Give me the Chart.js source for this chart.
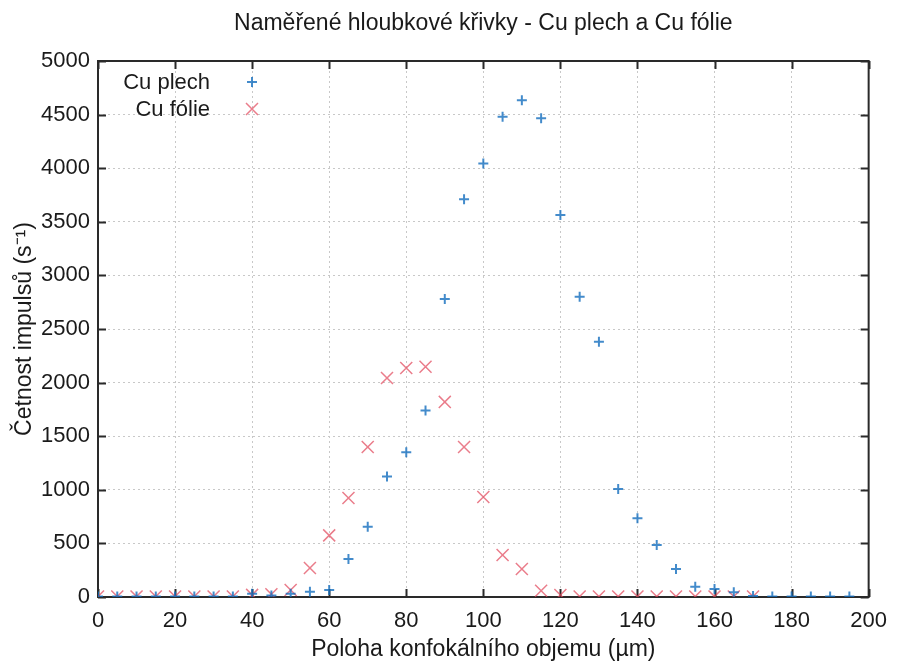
<!DOCTYPE html>
<html>
<head>
<meta charset="utf-8">
<script src="https://cdn.jsdelivr.net/npm/chart.js@4.4.0/dist/chart.umd.min.js"></script>
<style>
	body { margin: 0; background: #fff; }
	#wrap { width: 898px; height: 662px; }
</style>
</head>
<body>
<div id="wrap"><canvas id="graph_depth" width="898" height="662"></canvas></div>
<script>
// poloha konfokalniho objemu (um)
var positions = [0, 5, 10, 15, 20, 25, 30, 35, 40, 45, 50, 55, 60, 65, 70, 75, 80, 85, 90, 95,
	100, 105, 110, 115, 120, 125, 130, 135, 140, 145, 150, 155, 160, 165, 170, 175, 180, 185, 190, 195];

var cu_plech = [5, 5, 5, 5, 5, 5, 5, 5, 30, 15, 30, 50, 65, 355, 655, 1125, 1350, 1740, 2780, 3710,
	4045, 4480, 4635, 4465, 3563, 2800, 2380, 1007, 735, 485, 262, 95, 75, 45, 10, 5, 5, 5, 5, 5];

var cu_folie = [5, 5, 5, 5, 5, 5, 5, 5, 20, 25, 65, 270, 575, 923, 1400, 2043, 2136, 2148, 1820, 1400,
	933, 392, 261, 59, 19, 5, 5, 5, 5, 5, 5, 5, 5, 5, 5];

var series_labels = ['Cu plech', 'Cu fólie'];
var x_ticks = [0, 20, 40, 60, 80, 100, 120, 140, 160, 180, 200];
var y_ticks = [0, 500, 1000, 1500, 2000, 2500, 3000, 3500, 4000, 4500, 5000];

var BLUE = 'rgba(20, 110, 190, 0.8)';
var RED = 'rgba(225, 70, 90, 0.7)';
var TEXT = '#1a1a1a';

function toPoints(values){
	return values.map(function(v, i){
		return {x: positions[i], y: v};
	});
}

function drawMarker(ctx, style, x, y){
	ctx.save();
	if(style == 'cross'){
		ctx.strokeStyle = BLUE;
		ctx.lineWidth = 2;
		ctx.beginPath();
		ctx.moveTo(x - 5, y); ctx.lineTo(x + 5, y);
		ctx.moveTo(x, y - 5); ctx.lineTo(x, y + 5);
		ctx.stroke();
	} else {
		ctx.strokeStyle = RED;
		ctx.lineWidth = 1.5;
		ctx.beginPath();
		ctx.moveTo(x - 6, y - 6); ctx.lineTo(x + 6, y + 6);
		ctx.moveTo(x + 6, y - 6); ctx.lineTo(x - 6, y + 6);
		ctx.stroke();
	}
	ctx.restore();
}

// gnuplot like frame with inward ticks on all four sides
var framePlugin = {
	id: 'frame',
	beforeDatasetsDraw: function(chart){
		var ctx = chart.ctx;
		var a = chart.chartArea;
		var xs = chart.scales.x;
		var ys = chart.scales.y;
		ctx.save();
		ctx.strokeStyle = '#2a2a2a';
		ctx.lineWidth = 2;
		ctx.beginPath();
		x_ticks.forEach(function(v){
			var px = Math.round(xs.getPixelForValue(v)) + 0.5;
			ctx.moveTo(px, a.bottom); ctx.lineTo(px, a.bottom - 8);
			ctx.moveTo(px, a.top); ctx.lineTo(px, a.top + 8);
		});
		y_ticks.forEach(function(v){
			var py = Math.round(ys.getPixelForValue(v)) + 0.5;
			ctx.moveTo(a.left, py); ctx.lineTo(a.left + 8, py);
			ctx.moveTo(a.right, py); ctx.lineTo(a.right - 8, py);
		});
		ctx.stroke();
		ctx.strokeRect(a.left, a.top, a.right - a.left, a.bottom - a.top);
		ctx.restore();
	},
	afterDraw: function(chart){
		//legend inside the plot, text right aligned, marker after it
		var ctx = chart.ctx;
		ctx.save();
		ctx.font = '22px "Liberation Sans", Arial, sans-serif';
		ctx.fillStyle = TEXT;
		ctx.textAlign = 'right';
		ctx.textBaseline = 'middle';
		ctx.fillText(series_labels[0], 210, 83);
		ctx.fillText(series_labels[1], 210, 110);
		drawMarker(ctx, 'cross', 252, 82);
		drawMarker(ctx, 'crossRot', 252, 109);
		ctx.restore();
	}
};

var graph_depth_config = {
	type: 'scatter',
	data: {
		datasets: [{
			label: series_labels[0],
			data: toPoints(cu_plech),
			pointStyle: 'cross',
			pointRadius: 5,
			pointHoverRadius: 5,
			borderColor: BLUE,
			backgroundColor: BLUE,
			pointBorderWidth: 2
		},{
			label: series_labels[1],
			data: toPoints(cu_folie),
			pointStyle: 'crossRot',
			pointRadius: 8.5,
			pointHoverRadius: 8.5,
			borderColor: RED,
			backgroundColor: RED,
			pointBorderWidth: 1.5
		}]
	},
	options: {
		responsive: false,
		animation: false,
		layout: {
			padding: {left: 0, right: 25, top: 0, bottom: 0}
		},
		scales: {
			x: {
				type: 'linear',
				min: 0,
				max: 200,
				afterBuildTicks: function(scale){
					scale.ticks = x_ticks.map(function(v){ return {value: v}; });
				},
				afterFit: function(scale){
					scale.height = 65;
				},
				ticks: {
					callback: function(value){ return value; },
					font: {size: 22},
					color: TEXT,
					padding: 11,
					maxRotation: 0
				},
				grid: {
					color: '#c8c8c8',
					lineWidth: 1,
					drawTicks: false
				},
				border: {display: false, dash: [2, 3]},
				title: {
					display: true,
					text: 'Poloha konfokálního objemu (µm)',
					font: {size: 23},
					color: TEXT,
					padding: {top: 0, bottom: -1}
				}
			},
			y: {
				type: 'linear',
				min: 0,
				max: 5000,
				afterBuildTicks: function(scale){
					scale.ticks = y_ticks.map(function(v){ return {value: v}; });
				},
				afterFit: function(scale){
					scale.width = 98;
				},
				ticks: {
					callback: function(value){ return value; },
					font: {size: 22},
					color: TEXT,
					padding: 8
				},
				grid: {
					color: '#c8c8c8',
					lineWidth: 1,
					drawTicks: false
				},
				border: {display: false, dash: [2, 3]},
				title: {
					display: true,
					text: 'Četnost impulsů (s⁻¹)',
					font: {size: 23},
					color: TEXT,
					padding: {top: 11, bottom: 0}
				}
			}
		},
		plugins: {
			legend: {display: false},
			tooltip: {enabled: false},
			title: {
				display: true,
				fullSize: false,
				text: 'Naměřené hloubkové křivky - Cu plech a Cu fólie',
				font: {size: 23, weight: 'normal'},
				color: TEXT,
				padding: {top: 10, bottom: 23.4}
			}
		}
	},
	plugins: [framePlugin]
};

Chart.defaults.font.family = '"Liberation Sans", Arial, sans-serif';

document.addEventListener("DOMContentLoaded", function(){
	new Chart(document.getElementById("graph_depth").getContext('2d'), graph_depth_config);
});
</script>
</body>
</html>
